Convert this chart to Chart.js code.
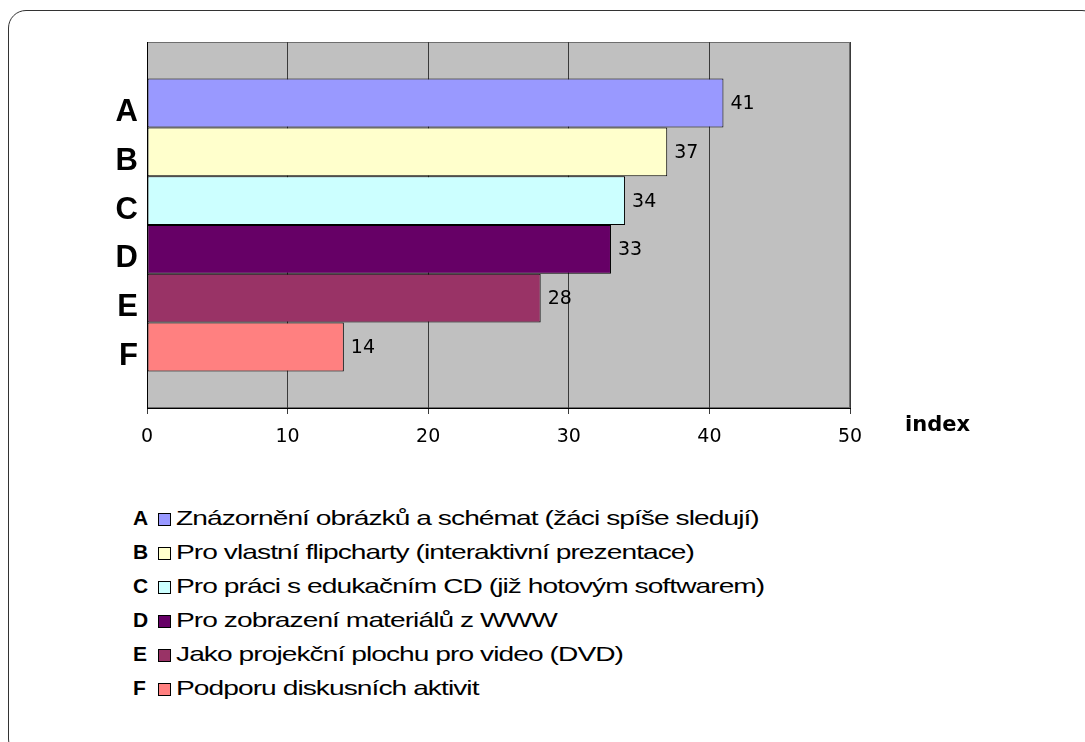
<!DOCTYPE html>
<html>
<head>
<meta charset="utf-8">
<script src="https://cdn.jsdelivr.net/npm/chart.js@4/dist/chart.umd.min.js"></script>
<style>
    body { margin: 0; background: #fff; width: 1085px; height: 742px; overflow: hidden; position: relative; font-family: "Liberation Sans", Arial, sans-serif; }
    #frame { position: absolute; left: 8px; top: 10px; width: 1090px; height: 745px; border: 1.5px solid #333; border-radius: 18px; }
    #bars { position: absolute; left: 0; top: 0; }
    #legend { position: absolute; left: 133px; top: 501px; }
    .row { height: 34px; line-height: 34px; white-space: nowrap; font-size: 21px; color: #000; }
    .row b { display: inline-block; width: 19px; font-size: 21px; }
    .row i { display: inline-block; width: 11px; height: 11px; border: 1px solid #000; margin: 0 5px 0 6px; vertical-align: -1px; }
    .row span { display: inline-block; letter-spacing: -0.7px; transform: scaleX(1.34); transform-origin: 0 50%; }
</style>
</head>
<body>
<div id="frame"></div>
<canvas id="bars" width="1085" height="470"></canvas>
<div id="legend"></div>
<script>
document.addEventListener('DOMContentLoaded', init);

const letters = ['A', 'B', 'C', 'D', 'E', 'F'];
const answers = [
    'Znázornění obrázků a schémat (žáci spíše sledují)',
    'Pro vlastní flipcharty (interaktivní prezentace)',
    'Pro práci s edukačním CD (již hotovým softwarem)',
    'Pro zobrazení materiálů z WWW',
    'Jako projekční plochu pro video (DVD)',
    'Podporu diskusních aktivit'
];
const values = [41, 37, 34, 33, 28, 14];
const colors = ['#9999ff', '#ffffcc', '#ccffff', '#660066', '#993366', '#ff8080'];
const xTicks = [0, 10, 20, 30, 40, 50];

// gray plot area plus its thin frame
const plotBack = {
    id: 'plotBack',
    beforeDraw(chart) {
        const a = chart.chartArea, ctx = chart.ctx;
        ctx.save();
        ctx.fillStyle = '#c0c0c0';
        ctx.fillRect(a.left, a.top, a.right - a.left, a.bottom - a.top);
        ctx.strokeStyle = '#6e6e6e';
        ctx.lineWidth = 1;
        ctx.strokeRect(a.left + 0.5, a.top + 0.5, a.right - a.left - 1, a.bottom - a.top - 1);
        ctx.restore();
    }
};

// letters left of the bars, values right of them, and the axis name
const barText = {
    id: 'barText',
    afterDatasetsDraw(chart) {
        const ctx = chart.ctx, a = chart.chartArea;
        ctx.save();
        ctx.fillStyle = '#000';
        chart.data.datasets.forEach((ds, i) => {
            const bar = chart.getDatasetMeta(i).data[0];
            ctx.font = 'bold 31px "Liberation Sans", Arial, sans-serif';
            ctx.textAlign = 'right';
            ctx.textBaseline = 'alphabetic';
            ctx.fillText(ds.label, a.left - 9, bar.y + 18);
            ctx.font = '19px "DejaVu Sans", sans-serif';
            ctx.textAlign = 'left';
            ctx.textBaseline = 'middle';
            ctx.fillText(ds.data[0], bar.x + 7, bar.y + 1);
        });
        ctx.font = 'bold 21px "DejaVu Sans", sans-serif';
        ctx.textAlign = 'left';
        ctx.textBaseline = 'middle';
        ctx.fillText('index', a.right + 55, a.bottom + 18);
        ctx.restore();
    }
};

function init() {
    new Chart(document.getElementById('bars'), {
        type: 'bar',
        data: {
            labels: [''],
            datasets: letters.map((l, i) => ({
                label: l,
                data: [values[i]],
                backgroundColor: colors[i],
                borderColor: '#000',
                borderWidth: 1,
                borderSkipped: false,
                categoryPercentage: 0.8,
                barPercentage: 1
            }))
        },
        options: {
            indexAxis: 'y',
            responsive: false,
            animation: false,
            layout: { padding: { top: 42, left: 0, right: 235, bottom: 22 } },
            plugins: { legend: { display: false }, tooltip: { enabled: false } },
            scales: {
                x: {
                    min: 0,
                    max: 50,
                    afterBuildTicks: s => { s.ticks = xTicks.map(v => ({ value: v })); },
                    afterFit: s => { s.height = 40; },
                    grid: { color: '#3a3a3a', lineWidth: 1, tickLength: 6 },
                    border: { color: '#000', width: 1 },
                    ticks: { color: '#000', padding: 12, font: { family: 'DejaVu Sans', size: 19 } }
                },
                y: {
                    afterFit: s => { s.width = 147; },
                    grid: { display: false },
                    border: { color: '#000', width: 1 },
                    ticks: { display: false }
                }
            }
        },
        plugins: [plotBack, barText]
    });

    const legend = document.getElementById('legend');
    letters.forEach((l, i) => {
        const row = document.createElement('div');
        row.className = 'row';
        row.innerHTML = '<b>' + l + '</b><i style="background:' + colors[i] + '"></i><span>' + answers[i] + '</span>';
        legend.appendChild(row);
    });
}
</script>
</body>
</html>
